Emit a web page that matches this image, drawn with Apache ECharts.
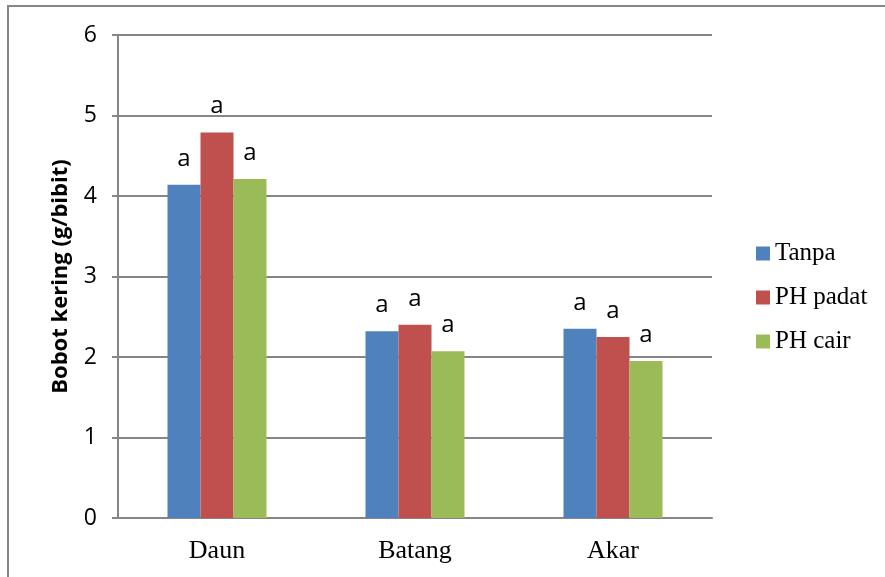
<!DOCTYPE html>
<html>
<head>
<meta charset="utf-8">
<script src="https://cdn.jsdelivr.net/npm/echarts@6/dist/echarts.min.js"></script>
<style>
  html, body { margin: 0; padding: 0; background: #fff; }
  #chart { width: 885px; height: 577px; }
</style>
</head>
<body>
<div id="chart"></div>
<script>
// Dry weight per plant part for each treatment
const categories = ['Daun', 'Batang', 'Akar'];
const seriesNames = ['Tanpa', 'PH padat', 'PH cair'];
const tanpa = [4.14, 2.32, 2.35];
const phPadat = [4.79, 2.40, 2.25];
const phCair = [4.21, 2.07, 1.95];
const letters = [['a', 'a', 'a'], ['a', 'a', 'a'], ['a', 'a', 'a']];
const yTicks = [0, 1, 2, 3, 4, 5, 6];

const colors = ['#4F81BD', '#C0504D', '#9BBB59'];
const values = [tanpa, phPadat, phCair];

const chart = echarts.init(document.getElementById('chart'), null, { renderer: 'canvas' });

chart.setOption({
  animation: false,
  backgroundColor: '#ffffff',
  grid: { left: 118, right: 173, top: 35, bottom: 59, containLabel: false },
  legend: {
    orient: 'vertical',
    left: 751,
    top: 236,
    itemWidth: 14,
    itemHeight: 14,
    itemGap: 19,
    icon: 'rect',
    textStyle: { fontFamily: 'Liberation Serif', fontSize: 25, color: '#000' },
    data: seriesNames
  },
  xAxis: {
    type: 'category',
    data: categories,
    axisLine: { show: true, lineStyle: { color: '#868686', width: 2 } },
    axisTick: { show: false },
    axisLabel: { fontFamily: 'Liberation Serif', fontSize: 26, color: '#000', margin: 20 }
  },
  yAxis: {
    type: 'value',
    min: yTicks[0],
    max: yTicks[yTicks.length - 1],
    interval: 1,
    name: 'Bobot kering (g/bibit)',
    nameLocation: 'middle',
    nameRotate: 90,
    nameGap: 46,
    nameTextStyle: { fontFamily: 'Open Sans', fontWeight: 'bold', fontSize: 22, color: '#000' },
    axisLine: { show: true, lineStyle: { color: '#868686', width: 2 } },
    axisTick: { show: true, length: 6, lineStyle: { color: '#868686', width: 2 } },
    axisLabel: { fontFamily: 'Open Sans', fontSize: 23, color: '#000', margin: 21 },
    splitLine: { show: true, lineStyle: { color: '#868686', width: 2 } }
  },
  series: seriesNames.map((name, i) => ({
    name,
    type: 'bar',
    data: values[i],
    barWidth: 33,
    barGap: '0%',
    itemStyle: { color: colors[i] },
    label: {
      show: true,
      position: 'top',
      distance: 14,
      fontFamily: 'Open Sans',
      fontSize: 24,
      color: '#000',
      formatter: p => letters[i][p.dataIndex]
    }
  })),
  graphic: [
    {
      type: 'polyline',
      shape: { points: [[8, 577], [8, 6], [885, 6]] },
      style: { stroke: '#868686', lineWidth: 2, fill: null }
    }
  ]
});
</script>
</body>
</html>
